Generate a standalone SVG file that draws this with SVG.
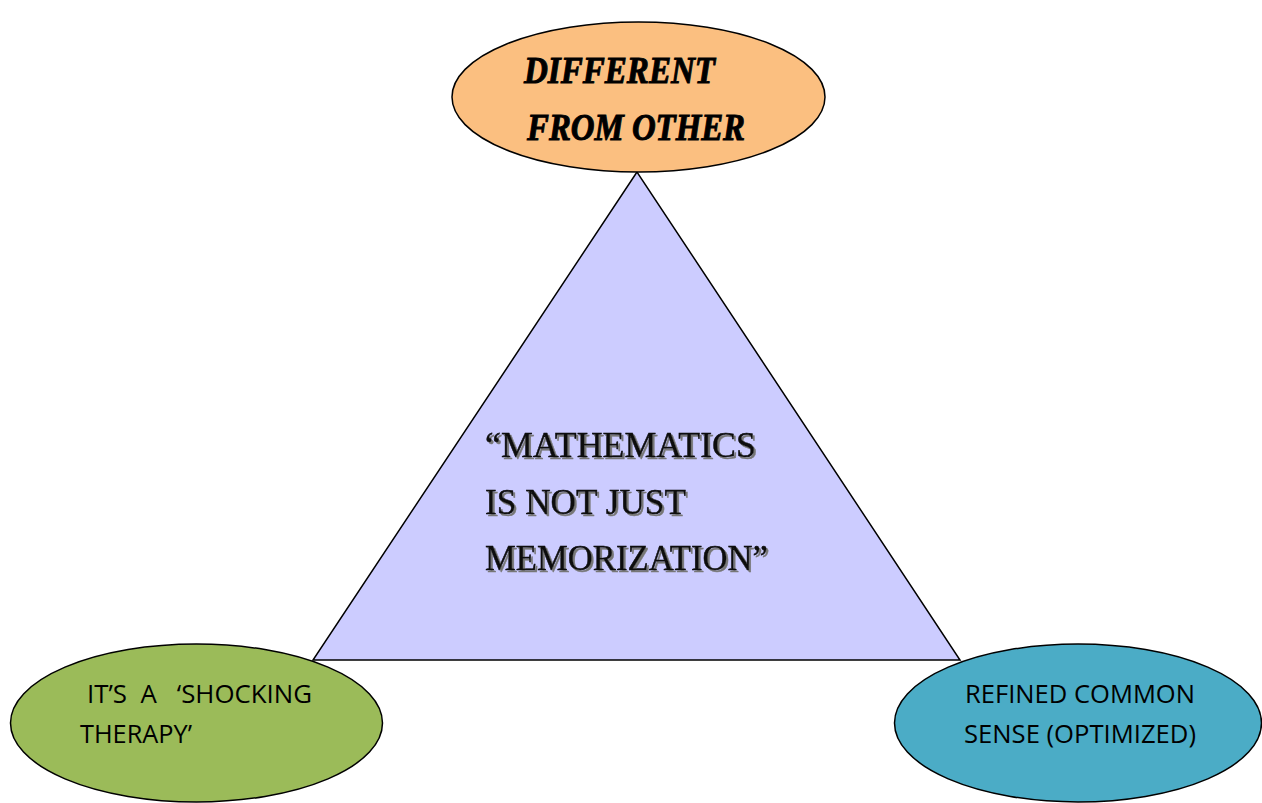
<svg xmlns="http://www.w3.org/2000/svg" width="1262" height="803" viewBox="0 0 1262 803">
<defs>
<style>
.shape{stroke:#000;stroke-width:1.5}
.deco{font-family:"Liberation Serif","DejaVu Serif",serif;font-weight:bold;font-style:italic;font-size:38px;fill:#000;stroke:#000;stroke-width:1}
.eng{font-family:"Liberation Serif","DejaVu Serif",serif;font-size:36px;fill:#111;stroke:#000;stroke-width:0.4}
.body{font-family:"Open Sans","Noto Sans",sans-serif;font-size:26px;fill:#000}
</style>
<filter id="shadow" x="-5%" y="-20%" width="110%" height="140%">
<feDropShadow dx="2" dy="2" stdDeviation="0.3" flood-color="#777" flood-opacity="1"/>
</filter>
</defs>
<rect width="1262" height="803" fill="#fff"/>
<g id="connectors"></g>
<g id="triangle">
<polygon class="shape" points="637,172 313,660 960,660" fill="#CCCCFF"/>
<g filter="url(#shadow)">
<text class="eng" x="485" y="457" textLength="271" lengthAdjust="spacingAndGlyphs">“MATHEMATICS</text>
<text class="eng" x="485" y="514" textLength="201" lengthAdjust="spacingAndGlyphs">IS NOT JUST</text>
<text class="eng" x="485" y="570" textLength="283" lengthAdjust="spacingAndGlyphs">MEMORIZATION”</text>
</g>
</g>
<g id="top">
<ellipse class="shape" cx="638.5" cy="97" rx="186.5" ry="75" fill="#FBBF80"/>
<text class="deco" x="524" y="83" textLength="191" lengthAdjust="spacingAndGlyphs">DIFFERENT</text>
<text class="deco" x="527" y="140" textLength="218" lengthAdjust="spacingAndGlyphs">FROM OTHER</text>
</g>
<g id="left">
<ellipse class="shape" cx="196.5" cy="723" rx="186" ry="79" fill="#9BBB59"/>
<text class="body" x="87" y="703" textLength="225" lengthAdjust="spacingAndGlyphs" xml:space="preserve">IT’S  A   ‘SHOCKING</text>
<text class="body" x="80" y="743" textLength="112" lengthAdjust="spacingAndGlyphs">THERAPY’</text>
</g>
<g id="right">
<ellipse class="shape" cx="1078" cy="723" rx="183.5" ry="79" fill="#4BACC6"/>
<text class="body" x="965" y="703" textLength="230" lengthAdjust="spacingAndGlyphs">REFINED COMMON</text>
<text class="body" x="964" y="743" textLength="232" lengthAdjust="spacingAndGlyphs">SENSE (OPTIMIZED)</text>
</g>
</svg>
